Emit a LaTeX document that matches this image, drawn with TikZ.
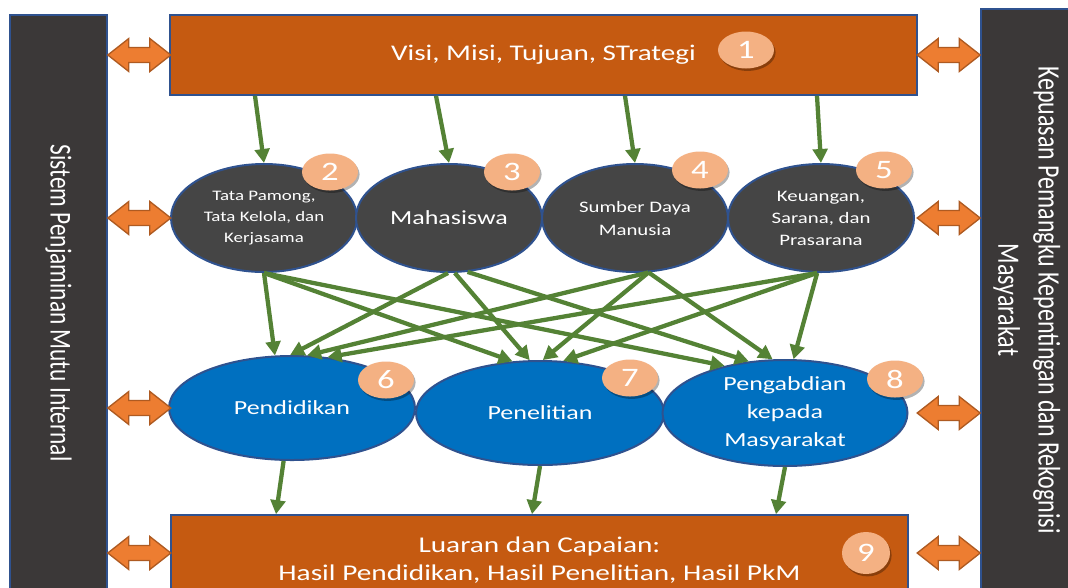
\documentclass[tikz,border=0pt]{standalone}
\usepackage{fontspec}
\setmainfont{Carlito}[FakeStretch=1.3]
\newfontfamily\plainfont{Carlito}
\usepackage{graphicx}
\usetikzlibrary{calc,shapes.geometric,arrows.meta,shadows}
\newlength\px \setlength\px{0.75pt}
\definecolor{boxor}{HTML}{C55A11}
\definecolor{bord}{HTML}{2F528F}
\definecolor{bardark}{HTML}{3B3838}
\definecolor{elldark}{HTML}{454545}
\definecolor{ellblue}{HTML}{0070C0}
\definecolor{peach}{HTML}{F4B183}
\definecolor{arror}{HTML}{ED7D31}
\definecolor{arrbord}{HTML}{AE5A21}
\definecolor{grn}{HTML}{548235}
\tikzset{
  boxnode/.style={draw=bord, line width=1.2pt, fill=boxor, text=white, inner sep=0pt},
  barnode/.style={draw=bord, line width=1.2pt, fill=bardark, text=white, inner sep=0pt},
  dell/.style={ellipse, draw=bord, line width=1.5pt, fill=elldark, text=white, align=center, inner sep=0pt, minimum width=186\px, minimum height=108\px},
  bell/.style={ellipse, draw=bord, line width=1.5pt, fill=ellblue, text=white, align=center, inner sep=0pt},
  numbadge/.style={ellipse, fill=peach, text=white, inner sep=0pt, minimum width=56\px, minimum height=37\px, font=\fontsize{20pt}{20pt}\selectfont, drop shadow={shadow xshift=1.2pt, shadow yshift=-1.8pt, fill=black, opacity=0.3}},
  garrow/.style={draw=grn, line width=3.2pt, -{Triangle[length=10.5pt,width=11pt]}},
  darrstyle/.style={fill=arror, draw=arrbord, line width=1pt, line join=miter},
  darr/.pic={\path[darrstyle] (0,0) -- (21,16.5) -- (21,7.5) -- (42,7.5) -- (42,16.5) -- (63,0) -- (42,-16.5) -- (42,-7.5) -- (21,-7.5) -- (21,-16.5) -- cycle;}
}
\begin{document}
\begin{tikzpicture}[x=0.75pt, y=-0.75pt]
\useasboundingbox (0,0) rectangle (1068,587);
\fill[white] (0,0) rectangle (1068,587);
% side bars
\node[barnode, minimum width=97\px, minimum height=576\px] (lbar) at (58.5,303)
  {\rotatebox{-90}{\scalebox{1}[1.3]{\plainfont\fontsize{17.5pt}{23pt}\selectfont Sistem Penjaminan Mutu Internal}}};
\node[barnode, minimum width=91\px, minimum height=582\px] (rbar) at (1026.5,300)
  {\rotatebox{-90}{\scalebox{1}[1.3]{\plainfont\fontsize{18pt}{23.1pt}\selectfont\begin{tabular}{@{}c@{}}Kepuasan Pemangku Kepentingan dan Rekognisi\\Masyarakat\end{tabular}}}};
% top and bottom boxes
\node[boxnode, minimum width=747\px, minimum height=80\px, font=\fontsize{16.8pt}{20pt}\selectfont] (top) at (543.5,55) {Visi, Misi, Tujuan, STrategi};
\node[boxnode, minimum width=737\px, minimum height=76\px,
  label={[yshift=-5.25pt, text=white, align=center, font=\fontsize{16.9pt}{21pt}\selectfont]center:Luaran dan Capaian:\\Hasil Pendidikan, Hasil Penelitian, Hasil PkM}] (bot) at (539.5,553) {};
% dark ellipses
\node[dell, font=\fontsize{10.9pt}{15.75pt}\selectfont] (e2) at (264,218) {Tata Pamong,\\Tata Kelola, dan\\Kerjasama};
\node[dell, font=\fontsize{15pt}{18pt}\selectfont] (e3) at (449,218) {Mahasiswa};
\node[dell, font=\fontsize{12pt}{17.25pt}\selectfont] (e4) at (635,218) {Sumber Daya\\Manusia};
\node[dell, font=\fontsize{12pt}{16.5pt}\selectfont] (e5) at (821,218) {Keuangan,\\Sarana, dan\\Prasarana};
% blue ellipses
\node[bell, minimum width=246\px, minimum height=104\px, font=\fontsize{15pt}{18pt}\selectfont] (e6) at (292,408) {Pendidikan};
\node[bell, minimum width=248\px, minimum height=104\px, font=\fontsize{15pt}{18pt}\selectfont] (e7) at (540,413) {Penelitian};
\node[bell, minimum width=245\px, minimum height=106\px, font=\fontsize{15pt}{21pt}\selectfont] (e8) at (785,413) {Pengabdian\\kepada\\Masyarakat};
% arrows top -> row 2
\draw[garrow] ($(top.south -| e2.north)+(-9,0)$) -- (e2.north);
\draw[garrow] ($(top.south -| e3.north)+(-13,0)$) -- (e3.north);
\draw[garrow] ($(top.south -| e4.north)+(-10,0)$) -- (e4.north);
\draw[garrow] ($(top.south -| e5.north)+(-4,0)$) -- (e5.north);
% row 2 -> row 3
\draw[garrow] (e2.south) -- (e6.108);
\draw[garrow] (e2.south) -- (e7.118);
\draw[garrow] (e2.south) -- (e8.142);
\draw[garrow] (e3.-91) -- (e6.92);
\draw[garrow] (e3.-84) -- (e7.101);
\draw[garrow] (e3.-71) -- (e8.125);
\draw[garrow] (e4.-76) -- (e6.74);
\draw[garrow] (e4.-76) -- (e7.87);
\draw[garrow] (e4.-76) -- (e8.103);
\draw[garrow] (e5.-94) -- (e6.55);
\draw[garrow] (e5.-94) -- (e7.66);
\draw[garrow] (e5.-94) -- (e8.81);
% row 3 -> bottom
\draw[garrow] (e6.-99) -- ($(bot.north -| e6.south)+(-16,0)$);
\draw[garrow] (e7.south) -- ($(bot.north -| e7.south)+(-8,0)$);
\draw[garrow] (e8.south) -- ($(bot.north -| e8.south)+(-9,0)$);
% double arrows
\pic at (lbar.east |- top.west) {darr};
\pic at (lbar.east |- e2.west) {darr};
\pic at (lbar.east |- e6.west) {darr};
\pic at (lbar.east |- bot.west) {darr};
\pic at ($(rbar.west |- top.east)+(-63,0)$) {darr};
\pic at ($(rbar.west |- e5.east)+(-63,0)$) {darr};
\pic at ($(rbar.west |- e8.east)+(-63,0)$) {darr};
\pic at ($(rbar.west |- bot.east)+(-63,0)$) {darr};
% badges
\node[numbadge] (b1) at (746,50) {1};
\node[numbadge] (b2) at (330,172) {2};
\node[numbadge] (b3) at (512,172) {3};
\node[numbadge] (b4) at (700,170) {4};
\node[numbadge] (b5) at (884,170) {5};
\node[numbadge] (b6) at (386,380) {6};
\node[numbadge] (b7) at (630,378) {7};
\node[numbadge] (b8) at (895,379) {8};
\node[numbadge, minimum width=48\px, minimum height=42\px] (b9) at (866,553) {9};
\end{tikzpicture}
\end{document}
